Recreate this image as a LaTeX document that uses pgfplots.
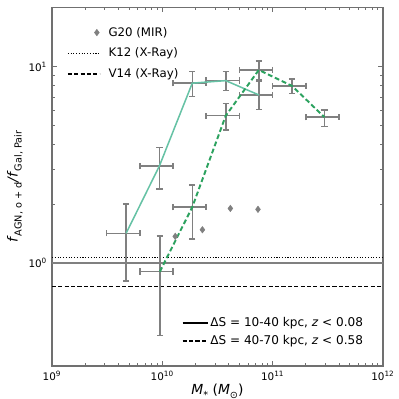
\documentclass[border=0pt]{standalone}
\usepackage{fontspec}
\setmainfont{DejaVu Sans}
\usepackage{pgfplots}
\pgfplotsset{compat=1.18}
\definecolor{cSolid}{HTML}{66C2A5}
\definecolor{cDash}{HTML}{2CA25F}
\definecolor{cErr}{HTML}{808080}
\definecolor{cAxis}{HTML}{707070}
\newcommand{\sub}[1]{\raisebox{-0.28em}{\fontsize{7}{8}\selectfont #1}}

\pgfplotsset{
  errs/.style={
    forget plot, draw=none, mark=none,
    error bars/x dir=both, error bars/x explicit,
    error bars/y dir=both, error bars/y explicit,
    error bars/error bar style={draw=cErr, line width=1.1pt},
    error bars/error mark options={draw=cErr, line width=1.1pt, mark size=2.3pt, rotate=90},
  },
  g20leg/.style={legend image code/.code={\draw[##1] plot coordinates {(21pt,0pt)};}},
}

\begin{document}
\begin{tikzpicture}
\begin{axis}[name=main,
  xmode=log, ymode=log, scale only axis,
  width=238.9pt, height=258.8pt,
  xmin=1e9, xmax=1e12, ymin=0.3, ymax=20,
  axis line style={cAxis, line width=0.9pt},
  tick style={cAxis, line width=0.6pt},
  major tick length=3.5pt, minor tick length=2pt,
  xtick={1e9,1e10,1e11,1e12},
  xticklabels={10\textsuperscript{9},10\textsuperscript{10},10\textsuperscript{11},10\textsuperscript{12}},
  ytick={1,10},
  yticklabels={10\textsuperscript{0},10\textsuperscript{1}},
  ticklabel style={font=\fontsize{7.5}{8}\selectfont},
  label style={font=\fontsize{10}{11}\selectfont},
  xlabel={\textit{M}\sub{*} (\textit{M}\sub{⊙})},
  ylabel={\textit{f}\sub{AGN, o + d}\textit{/f}\sub{Gal, Pair}},
  xlabel style={at={(axis description cs:0.5,-0.0715)}, anchor=center},
  ylabel style={at={(axis description cs:-0.112,0.5)}, anchor=center},
  legend style={at={(axis description cs:0.045,0.95)}, anchor=north west,
    draw=none, fill=none, font=\fontsize{8.5}{9.5}\selectfont,
    row sep=5pt, inner sep=0pt, nodes={inner sep=1pt},
    /tikz/every odd column/.append style={column sep=5pt}},
  legend cell align=left,
  legend image code/.code={\draw[#1] (0pt,0pt) -- (23pt,0pt);},
]
% reference levels
\addplot[forget plot, cErr, line width=1.1pt] coordinates {(1e9,1) (1e12,1)};
\addplot[forget plot, black, line width=0.8pt, dash pattern=on 0.8pt off 1.2pt] coordinates {(1e9,1.07) (1e12,1.07)};
\addplot[forget plot, black, line width=0.9pt, dash pattern=on 3pt off 1.6pt] coordinates {(1e9,0.76) (1e12,0.76)};

% error bars, dS = 10-40 kpc
\addplot[errs] coordinates {
  (4.7e9,1.42)   += (1.55e9,0.58)  -= (1.575e9,0.61)
  (9.4e9,3.12)   += (3.1e9,0.75)   -= (3.15e9,0.74)
  (1.87e10,8.24) += (6.3e9,1.19)   -= (6.2e9,1.20)
  (3.76e10,8.49) += (1.24e10,0.94) -= (1.26e10,0.94)
  (7.5e10,7.18)  += (2.5e10,1.21)  -= (2.5e10,1.11)
};
% error bars, dS = 40-70 kpc
\addplot[errs] coordinates {
  (9.5e9,0.906)  += (3.0e9,0.474)  -= (3.25e9,0.476)
  (1.87e10,1.93) += (6.3e9,0.57)   -= (6.2e9,0.60)
  (3.76e10,5.63) += (1.24e10,0.88) -= (1.26e10,0.87)
  (7.5e10,9.62)  += (2.5e10,1.08)  -= (2.5e10,1.07)
  (1.5e11,7.98)  += (5e10,0.67)    -= (5e10,0.66)
  (2.95e11,5.53) += (1.05e11,0.49) -= (9.5e10,0.58)
};

\addplot[forget plot, cSolid, line width=1.1pt, mark=none] coordinates {
  (4.7e9,1.42) (9.4e9,3.12) (1.87e10,8.24) (3.76e10,8.49) (7.5e10,7.18)};
\addplot[forget plot, cDash, line width=1.4pt, mark=none, dash pattern=on 3.5pt off 2pt] coordinates {
  (9.5e9,0.906) (1.87e10,1.93) (3.76e10,5.63) (7.5e10,9.62) (1.5e11,7.98) (2.95e11,5.53)};

% G20 (MIR)
\addplot[forget plot, only marks, mark=diamond*, mark size=2.3pt, color=cErr] coordinates {
  (1.31e10,1.37) (2.31e10,1.48) (4.14e10,1.9) (7.37e10,1.88)};

\addlegendimage{cErr, mark=diamond*, mark size=2.3pt, g20leg}
\addlegendentry{G20 (MIR)}
\addlegendimage{black, line width=0.8pt, dash pattern=on 0.8pt off 1.2pt}
\addlegendentry{K12 (X-Ray)}
\addlegendimage{black, line width=0.9pt, dash pattern=on 3pt off 1.6pt}
\addlegendentry{V14 (X-Ray)}
\end{axis}

\begin{axis}[
  xmode=log, ymode=log, scale only axis,
  width=238.9pt, height=258.8pt,
  xmin=1e9, xmax=1e12, ymin=0.3, ymax=20,
  hide axis,
  legend style={at={(axis description cs:0.392,0.049)}, anchor=south west,
    draw=none, fill=none, font=\fontsize{8.7}{9.7}\selectfont,
    row sep=3pt, inner sep=0pt, nodes={inner sep=1pt},
    /tikz/every odd column/.append style={column sep=0.5pt}},
  legend cell align=left,
  legend image code/.code={\draw[#1] (0pt,0pt) -- (18pt,0pt);},
]
\addlegendimage{black, line width=1pt}
\addlegendentry{ΔS = 10-40 kpc, \textit{z} < 0.08}
\addlegendimage{black, line width=1pt, dash pattern=on 3pt off 1.6pt}
\addlegendentry{ΔS = 40-70 kpc, \textit{z} < 0.58}
\end{axis}

\pgfresetboundingbox
\path ([shift={(-37.5pt,-23.8pt)}]main.south west) rectangle ([shift={(11.5pt,5.4pt)}]main.north east);
\end{tikzpicture}
\end{document}
